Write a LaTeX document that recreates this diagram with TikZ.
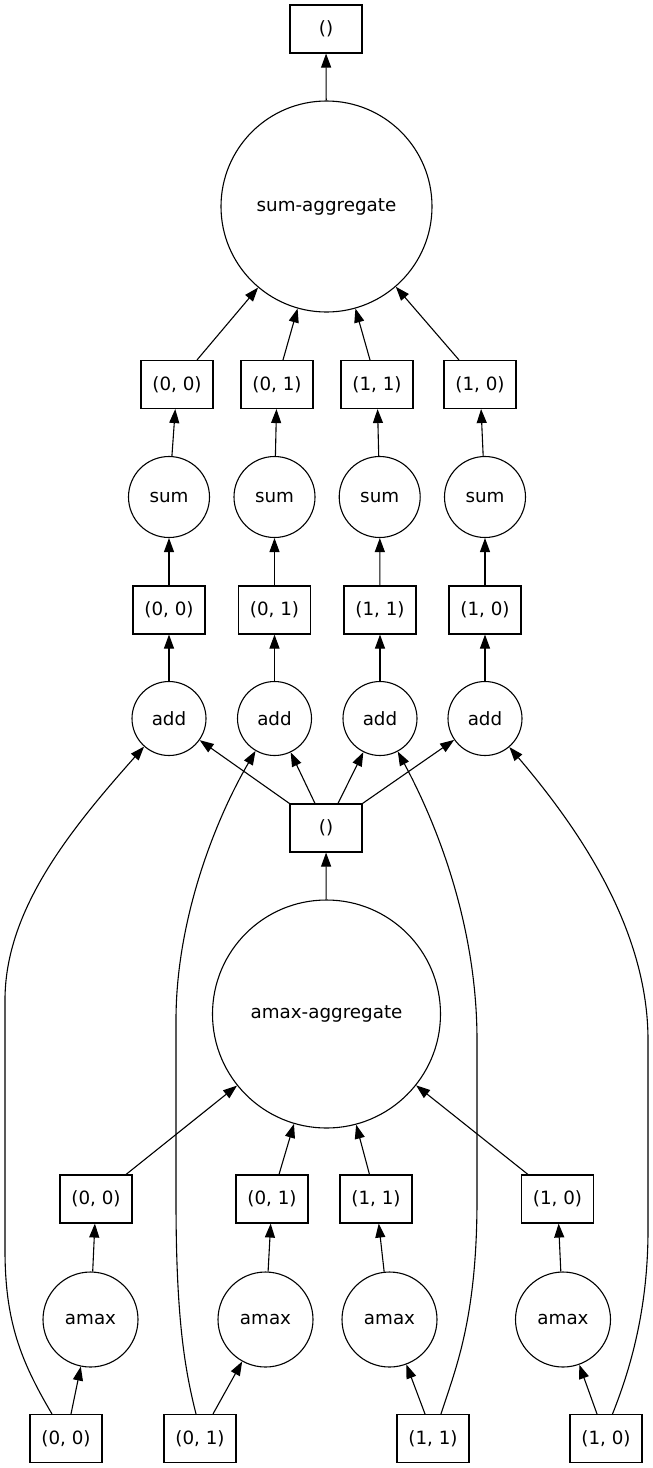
\documentclass[tikz,border=0pt]{standalone}
\usepackage{fontspec}
\setmainfont{DejaVu Sans}
\usetikzlibrary{arrows.meta}
\begin{document}
\begin{tikzpicture}[x=1pt,y=-1pt,
  every node/.style={font=\fontsize{18.3}{22}\selectfont, line width=1.1pt},
  boxnode/.style={draw, rectangle, minimum width=72pt, minimum height=48pt, inner sep=0pt},
  circnode/.style={draw, circle, inner sep=0pt},
  edge/.style={line width=1.1pt, -{Triangle[length=14pt,width=10pt]}}
]
\fill[white] (0,0) rectangle (653,1468);
\useasboundingbox (0,0) rectangle (653,1468);

% top
\node[boxnode] (top) at (326,29) {()};
\node[circnode, minimum size=211pt] (sagg) at (326.5,206.5) {sum-aggregate};

\node[boxnode] (ra1) at (177,384.5) {(0, 0)};
\node[boxnode] (ra2) at (277,384.5) {(0, 1)};
\node[boxnode] (ra3) at (377,384.5) {(1, 1)};
\node[boxnode] (ra4) at (480,384.5) {(1, 0)};

\node[circnode, minimum size=81pt] (s1) at (169,497) {sum};
\node[circnode, minimum size=81pt] (s2) at (274.5,497) {sum};
\node[circnode, minimum size=81pt] (s3) at (379.7,497) {sum};
\node[circnode, minimum size=81pt] (s4) at (485,497) {sum};

\node[boxnode] (rb1) at (169,610) {(0, 0)};
\node[boxnode] (rb2) at (274.5,610) {(0, 1)};
\node[boxnode] (rb3) at (380,610) {(1, 1)};
\node[boxnode] (rb4) at (485,610) {(1, 0)};

\node[circnode, minimum size=74pt] (a1) at (169,718.5) {add};
\node[circnode, minimum size=74pt] (a2) at (274.5,718.5) {add};
\node[circnode, minimum size=74pt] (a3) at (380,718.5) {add};
\node[circnode, minimum size=74pt] (a4) at (485,718.5) {add};

\node[boxnode] (mid) at (326,828) {()};
\node[circnode, minimum size=228pt] (magg) at (326.5,1014) {amax-aggregate};

\node[boxnode] (rc1) at (96,1199) {(0, 0)};
\node[boxnode] (rc2) at (272,1199) {(0, 1)};
\node[boxnode] (rc3) at (376,1199) {(1, 1)};
\node[boxnode] (rc4) at (557.5,1199) {(1, 0)};

\node[circnode, minimum size=95pt] (m1) at (90.5,1319.5) {amax};
\node[circnode, minimum size=95pt] (m2) at (265.5,1319.5) {amax};
\node[circnode, minimum size=95pt] (m3) at (389.5,1319.5) {amax};
\node[circnode, minimum size=95pt] (m4) at (563,1319.5) {amax};

\node[boxnode] (bb1) at (66,1438.5) {(0, 0)};
\node[boxnode] (bb2) at (200,1438.5) {(0, 1)};
\node[boxnode] (bb3) at (433,1438.5) {(1, 1)};
\node[boxnode] (bb4) at (606,1438.5) {(1, 0)};

% edges
\draw[edge] (sagg) -- (top);
\draw[edge] ([xshift=20pt]ra1.north) -- (sagg);
\draw[edge] ([xshift=6pt]ra2.north) -- (sagg);
\draw[edge] ([xshift=-7pt]ra3.north) -- (sagg);
\draw[edge] ([xshift=-21pt]ra4.north) -- (sagg);

\draw[edge] (s1) -- (ra1);
\draw[edge] (s2) -- (ra2);
\draw[edge] (s3) -- (ra3);
\draw[edge] (s4) -- (ra4);

\draw[edge] (rb1) -- (s1);
\draw[edge] (rb2) -- (s2);
\draw[edge] (rb3) -- (s3);
\draw[edge] (rb4) -- (s4);

\draw[edge] (a1) -- (rb1);
\draw[edge] (a2) -- (rb2);
\draw[edge] (a3) -- (rb3);
\draw[edge] (a4) -- (rb4);

\draw[edge] (mid.north west) -- (a1);
\draw[edge] ([xshift=-11pt]mid.north) -- (a2);
\draw[edge] ([xshift=12pt]mid.north) -- (a3);
\draw[edge] (mid.north east) -- (a4);

\draw[edge] (magg) -- (mid);

\draw[edge] ([xshift=30pt]rc1.north) -- (magg);
\draw[edge] ([xshift=7pt]rc2.north) -- (magg);
\draw[edge] ([xshift=-6.5pt]rc3.north) -- (magg);
\draw[edge] ([xshift=-29.5pt]rc4.north) -- (magg);

\draw[edge] (m1) -- (rc1);
\draw[edge] (m2) -- (rc2);
\draw[edge] (m3) -- (rc3);
\draw[edge] (m4) -- (rc4);

\draw[edge] ([xshift=5pt]bb1.north) -- (m1);
\draw[edge] ([xshift=13pt]bb2.north) -- (m2);
\draw[edge] ([xshift=-8pt]bb3.north) -- (m3);
\draw[edge] ([xshift=-9pt]bb4.north) -- (m4);

% long curved edges
\draw[edge] ([xshift=-14pt]bb1.north) .. controls (20,1360) and (5,1320) .. (5,1250)
   -- (5,1000) .. controls (5,910) and (70,830) .. (a1);
\draw[edge] ([xshift=-4pt]bb2.north) .. controls (185,1370) and (176,1320) .. (176,1200)
   -- (176,1020) .. controls (176,920) and (215,820) .. (a2);
\draw[edge] ([xshift=8pt]bb3.north) .. controls (455,1370) and (477,1320) .. (477,1200)
   -- (477,1040) .. controls (477,930) and (440,830) .. (a3);
\draw[edge] ([xshift=6.5pt]bb4.north) .. controls (630,1370) and (648,1310) .. (648,1230)
   -- (648,1040) .. controls (648,930) and (580,830) .. (a4);
\end{tikzpicture}
\end{document}
